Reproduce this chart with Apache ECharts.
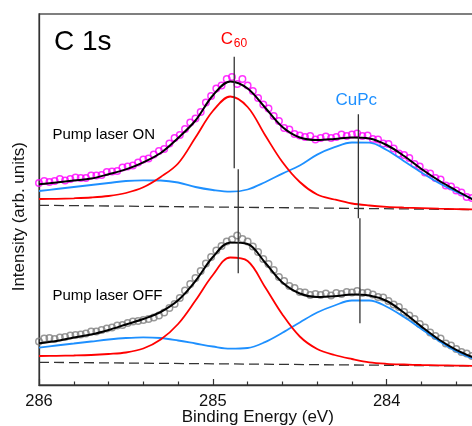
<!DOCTYPE html>
<html><head><meta charset="utf-8">
<script src="https://cdn.jsdelivr.net/npm/echarts@6/dist/echarts.min.js"></script>
<style>html,body{margin:0;padding:0;background:#fff}#c{width:472px;height:426px}</style>
</head><body><div id="c"></div>
<script>
// Fit curves sampled every 0.1 eV (binding energy, eV)
const fitEnergy = [286.0,285.9,285.8,285.7,285.6,285.5,285.4,285.3,285.2,285.1,285.0,284.9,284.8,284.7,284.6,284.5,284.4,284.3,284.2,284.1,284.0,283.9,283.8,283.7,283.6,283.5];
const fitOnTotal = [200.7,202.5,204.4,206.4,210.7,215.6,222.7,232,247,264.5,289.5,303.5,296.5,277.5,258,247.5,245,246,247.5,246.5,240,229,216,204.5,194.5,185];
const fitOnC60   = [186,186.2,186.7,187.5,189,192,197.7,208,221.5,247.5,274,288.5,278,250,223,203,190.5,185.5,181.5,179.5,178.2,177.4,176.8,176.3,175.9,175.6];
const fitOnCuPc  = [194,196,198,200,202,204,204.7,204.5,202.5,198,195,193.3,195.5,202.8,211.4,219.5,230.4,237.8,242.5,242.3,235,223.8,212.5,202,193.2,185.7];
const fitOffTotal = [41.7,44,47.5,50.5,55,60.5,66,73,84.7,104,128,142.5,141,122.5,102.5,91.5,88,88.8,90.5,89.5,84,72.3,58.4,45.5,35.2,27.5];
const fitOffC60   = [29,29.2,29.5,30,31,32.5,36.5,45.5,61,84.5,110,127.5,124,98,70.5,48.5,36,30,26,22.7,21.2,20.5,20,19.7,19.4,19.2];
const fitOffCuPc  = [37.3,39.5,41.5,43.5,45.5,47,47.7,47,44.5,41.5,38.5,36.3,37,42.9,52.2,62.5,72.5,79.5,84.5,84.5,78.3,68,56,44.2,33.8,26];

// Linear backgrounds
const baselineEnergy = [286.0, 283.5];
const baselineOn  = [179.7, 175.4];
const baselineOff = [22.7, 19.0];

// Measured points
const dataEnergy = [286.00,285.97,285.94,285.91,285.88,285.85,285.82,285.79,285.76,285.73,
285.70,285.67,285.64,285.61,285.58,285.55,285.52,285.49,285.46,285.43,
285.40,285.37,285.34,285.31,285.28,285.25,285.22,285.19,285.16,285.13,
285.10,285.07,285.04,285.01,284.98,284.95,284.92,284.89,284.86,284.83,
284.80,284.77,284.74,284.71,284.68,284.65,284.62,284.59,284.56,284.53,
284.50,284.47,284.44,284.41,284.38,284.35,284.32,284.29,284.26,284.23,
284.20,284.17,284.14,284.11,284.08,284.05,284.02,283.99,283.96,283.93,
283.90,283.87,283.84,283.81,283.78,283.75,283.72,283.69,283.66,283.63,
283.60,283.57,283.54,283.51];
const dataOn = [202,204,203,204,206,204.5,206,207.5,207,207,
209.5,209.5,210,213,213.5,214,217.5,218.5,219.5,222.5,
225.5,226.5,230.5,234,236,241.5,247,250,256,262.5,
266.5,273,282.5,289,296.5,299.5,306,308,301,306,
299.5,294,287,280.5,276.5,269,264,257,255.5,251,
249.5,248,249,245.5,247,248.5,247,248,250.5,249,
250.5,251.5,249,249.5,246,245.5,241.5,241,236.5,231.5,
230,227,221,218.5,212.5,211.5,207,205.5,199.5,198.5,
194.5,192.5,188,187];
const dataOff = [43.5,46.5,47,46,47.5,48,49.5,50,50.5,51.5,
53.5,53.5,55,56.5,57.5,59.5,60,62,63.5,64,
65,66,67.5,69.5,72.5,77,81,87,94.5,101,
107,114,121.5,128,134.5,139,143.5,145.5,149.5,146,
143.5,138.5,133,126,121,115,108,104,99,97,
93,92.5,90,91,90,91.5,89.5,92,91,93,
92.5,94,92,92.5,90.5,88,87.5,84,80.5,78,
73,69.5,66,61,57.5,52.5,49,46.5,41.5,39.5,
36,33,31.5,29];

// Peak position markers: [energy, lowIntensity, highIntensity]
const markC60On   = [284.877, 216.7, 328.3];
const markCuPcOn  = [284.163, 166.7, 270.7];
const markC60Off  = [284.854, 111.7, 215.7];
const markCuPcOff = [284.154, 61.7, 166.7];

const FONT = '"Liberation Sans", Arial, sans-serif';
const pairs = (xs, ys) => xs.map((x, i) => [x, ys[i]]);
const vline = m => [[m[0], m[1]], [m[0], m[2]]];

const lineS = (data, color, width, extra) => Object.assign({
  type: 'line', data: data, showSymbol: false, smooth: 0.35,
  lineStyle: { color: color, width: width }, silent: true, z: 3
}, extra || {});
const scatterS = (data, color) => ({
  type: 'scatter', data: data, symbol: 'circle', symbolSize: 6.5, silent: true, z: 2,
  itemStyle: { color: 'rgba(0,0,0,0)', borderColor: color, borderWidth: 1.5 }
});

const chart = echarts.init(document.getElementById('c'), null, { renderer: 'canvas' });
chart.setOption({
  animation: false,
  backgroundColor: '#fff',
  grid: { left: 39, top: 14, bottom: 41, right: -88.55, containLabel: false, outerBoundsMode: 'none',
          show: true, borderColor: '#555', borderWidth: 1.3, backgroundColor: 'transparent' },
  xAxis: {
    type: 'value', min: 283, max: 286, interval: 1, inverse: true,
    axisLine: { show: true, lineStyle: { color: '#333', width: 1.3 } },
    axisTick: { show: true, inside: true, length: 6, lineStyle: { color: '#333', width: 1.2 } },
    minorTick: { show: true, splitNumber: 5, length: 3.5, lineStyle: { color: '#333', width: 1.2 } },
    splitLine: { show: false }, minorSplitLine: { show: false },
    axisLabel: { margin: 8, fontSize: 16.5, color: '#111', fontFamily: FONT }
  },
  yAxis: {
    type: 'value', min: 0, max: 371,
    axisLine: { show: true, lineStyle: { color: '#333', width: 1.3 } },
    axisTick: { show: false }, axisLabel: { show: false }, splitLine: { show: false }
  },
  series: [
    scatterS(pairs(dataEnergy, dataOn), '#ff00ff'),
    scatterS(pairs(dataEnergy, dataOff), '#808080'),
    lineS(pairs(baselineEnergy, baselineOn), '#333', 1.3, { smooth: false, lineStyle: { color: '#333', width: 1.3, type: [10, 5] } }),
    lineS(pairs(baselineEnergy, baselineOff), '#333', 1.3, { smooth: false, lineStyle: { color: '#333', width: 1.3, type: [10, 5] } }),
    lineS(pairs(fitEnergy, fitOnCuPc), '#1e90ff', 1.8),
    lineS(pairs(fitEnergy, fitOnC60), '#ff0000', 1.8),
    lineS(pairs(fitEnergy, fitOffCuPc), '#1e90ff', 1.8),
    lineS(pairs(fitEnergy, fitOffC60), '#ff0000', 1.8),
    lineS(pairs(fitEnergy, fitOnTotal), '#000', 2),
    lineS(pairs(fitEnergy, fitOffTotal), '#000', 2),
    lineS(vline(markC60On), '#333', 1.3, { smooth: false, z: 4 }),
    lineS(vline(markCuPcOn), '#333', 1.3, { smooth: false, z: 4 }),
    lineS(vline(markC60Off), '#333', 1.3, { smooth: false, z: 4 }),
    lineS(vline(markCuPcOff), '#333', 1.3, { smooth: false, z: 4 })
  ],
  graphic: [
    { type: 'text', x: 54, y: 41.9, style: { text: 'C 1s', font: '28px ' + FONT, fill: '#000', verticalAlign: 'middle', align: 'left' } },
    { type: 'text', x: 220.8, y: 39, style: { text: 'C', font: '17px ' + FONT, fill: '#ff0000', verticalAlign: 'middle', align: 'left' } },
    { type: 'text', x: 233.8, y: 44.1, style: { text: '60', font: '12px ' + FONT, fill: '#ff0000', verticalAlign: 'middle', align: 'left' } },
    { type: 'text', x: 335.5, y: 100, style: { text: 'CuPc', font: '17px ' + FONT, fill: '#1e90ff', verticalAlign: 'middle', align: 'left' } },
    { type: 'text', x: 52.5, y: 134.7, style: { text: 'Pump laser ON', font: '15px ' + FONT, fill: '#000', verticalAlign: 'middle', align: 'left' } },
    { type: 'text', x: 52.5, y: 295.7, style: { text: 'Pump laser OFF', font: '15px ' + FONT, fill: '#000', verticalAlign: 'middle', align: 'left' } },
    { type: 'text', x: 257.8, y: 417.4, style: { text: 'Binding Energy (eV)', font: '17px ' + FONT, fill: '#111', verticalAlign: 'middle', align: 'center' } },
    { type: 'text', x: 19, y: 216.7, rotation: Math.PI / 2, style: { text: 'Intensity (arb. units)', font: '17px ' + FONT, fill: '#111', verticalAlign: 'middle', align: 'center' } }
  ]
});
</script>
</body></html>
